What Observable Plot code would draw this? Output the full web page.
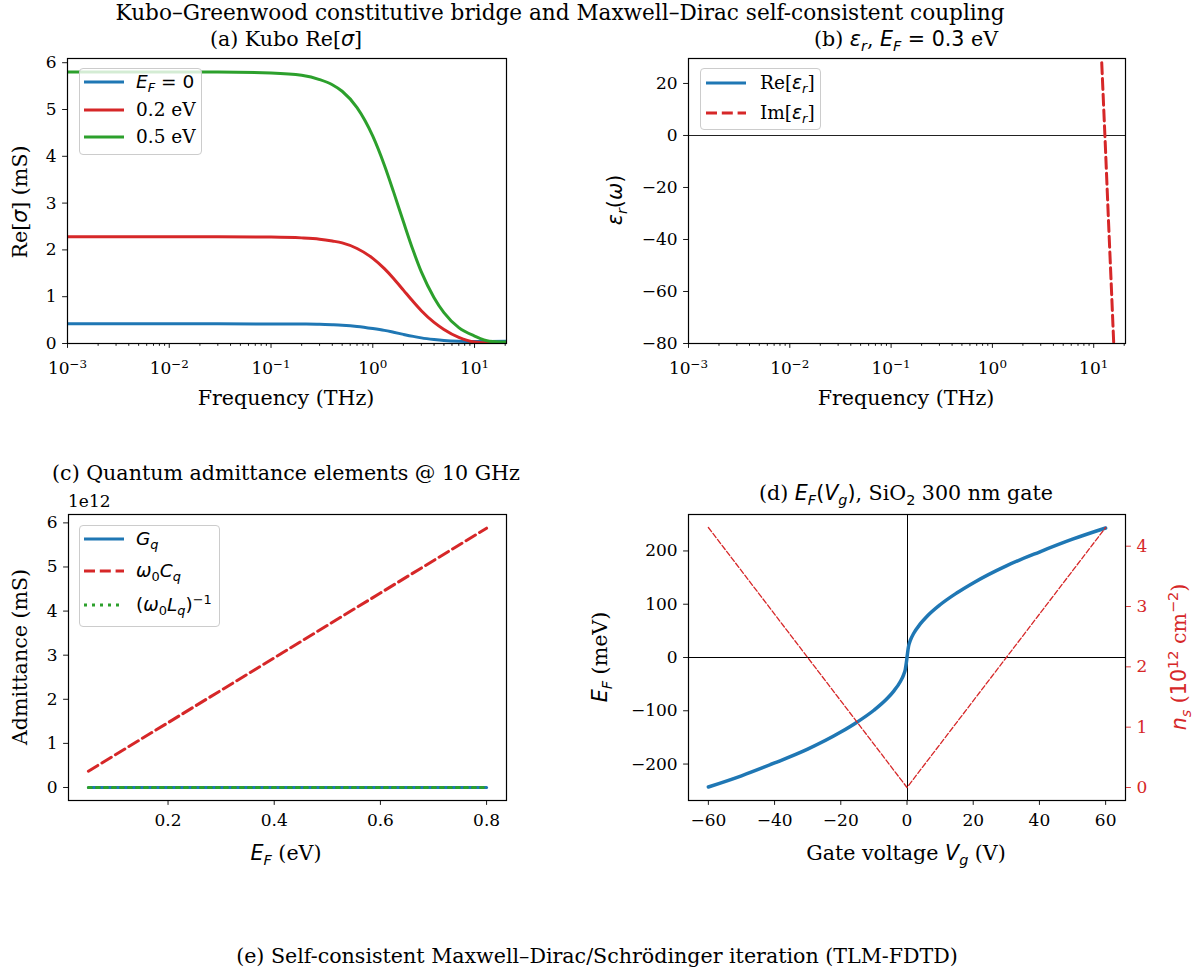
<!DOCTYPE html>
<html><head><meta charset="utf-8">
<script src="https://cdn.jsdelivr.net/npm/d3@7"></script>
<script src="https://cdn.jsdelivr.net/npm/@observablehq/plot@0.6"></script>
<style>
body{margin:0;background:#fff;}
#fig{position:relative;width:1195px;height:973px;background:#fff;font-family:"DejaVu Serif",serif;color:#000;overflow:hidden}
.t{position:absolute;white-space:nowrap;font-size:20.6px;line-height:1;transform:translate(-50%,-50%)}
.tl{position:absolute;white-space:nowrap;font-size:17px;line-height:1;transform:translate(0,-50%)}
.lt{position:absolute;white-space:nowrap;font-size:18.5px;line-height:1;transform:translate(0,-50%)}
.yl{position:absolute;white-space:nowrap;font-size:20.6px;line-height:1;transform:translate(-50%,-50%) rotate(-90deg)}
.m{font-family:"DejaVu Sans",sans-serif;font-style:italic}
.mu{font-family:"DejaVu Sans",sans-serif}
sub,sup{font-size:70%;line-height:0}
.leg{position:absolute;border:1px solid #cccccc;border-radius:4px;background:rgba(255,255,255,0.8);box-sizing:border-box}
.plotsvg{position:absolute}
</style></head>
<body><div id="fig"></div>
<script>
// ---------- data ----------
const freqTHz   = [0.001, 0.01, 0.03, 0.1, 0.2, 0.3, 0.4, 0.5, 0.7, 1.0, 1.3, 1.6, 2.0, 2.5, 3.0, 4.0, 5.0, 7.0, 10, 14, 20.6];
const reSigEF0  = [0.42, 0.42, 0.42, 0.419, 0.415, 0.41, 0.40, 0.39, 0.365, 0.32, 0.28, 0.24, 0.195, 0.152, 0.12, 0.085, 0.065, 0.05, 0.045, 0.045, 0.048];
const reSigEF02 = [2.28, 2.28, 2.28, 2.274, 2.257, 2.23, 2.19, 2.15, 2.03, 1.82, 1.60, 1.39, 1.14, 0.89, 0.70, 0.45, 0.30, 0.13, 0.03, 0.01, 0.01];
const reSigEF05 = [5.80, 5.80, 5.80, 5.78, 5.73, 5.64, 5.53, 5.39, 5.04, 4.43, 3.81, 3.24, 2.60, 1.98, 1.53, 0.98, 0.66, 0.34, 0.16, 0.05, 0.03];

const freqIm = [12.0, 13.0, 14.0, 15.0, 16.0];
const imEps  = [28, -3, -33, -60, -86];

const efAdm   = [0.05, 0.2, 0.4, 0.6, 0.8];
const gQ      = [0, 0, 0, 0, 0];
const w0Cq    = [0.37, 1.47, 2.94, 4.41, 5.88];
const invW0Lq = [0, 0, 0, 0, 0];

const vGate  = [-60, -50, -40, -30, -20, -15, -10, -6, -4, -2, -1, -0.5, -0.2, 0, 0.2, 0.5, 1, 2, 4, 6, 10, 15, 20, 30, 40, 50, 60];
const eFmeV  = [-243, -222, -198, -172, -140, -121, -99, -77, -63, -45, -32, -22, -10, 0, 10, 22, 32, 45, 63, 77, 99, 121, 140, 172, 198, 222, 243];
const vGateN = [-60, 0, 60];
const nS     = [4.31, 0, 4.31];

const logTicks = [1e-3, 1e-2, 1e-1, 1, 10];
const minorLog = [2,3,4,5,6,7,8,9].flatMap(k => [1e-3,1e-2,1e-1,1,10].map(d => k*d)).filter(v => v < 20.6);

// ---------- helpers ----------
const fig = document.getElementById("fig");
const BLUE = "#1f77b4", RED = "#d62728", GREEN = "#2ca02c";
const LW = 3, DASH = "11,4.8", DOT = "3,5";
const baseStyle = {background: "transparent", fontFamily: "DejaVu Serif", fontSize: "17px", color: "black", overflow: "visible", maxWidth: "none"};
const intFmt = d3.format("d");
const YP = 6;

function place(svg, left, top) {
  svg.classList.add("plotsvg");
  svg.style.left = left + "px"; svg.style.top = top + "px";
  fig.appendChild(svg);
  return svg;
}
function txt(cls, x, y, html, extra) {
  const d = document.createElement("div");
  d.className = cls; d.style.left = x + "px"; d.style.top = y + "px";
  d.innerHTML = html; if (extra) Object.assign(d.style, extra);
  fig.appendChild(d); return d;
}
function sup10(svg) {
  d3.select(svg).selectAll('g[aria-label="x-axis tick label"] text').each(function() {
    const t = this.textContent; if (!t.includes("^")) return;
    const [b, e] = t.split("^");
    const s = d3.select(this); s.text(null);
    s.append("tspan").text(b);
    s.append("tspan").attr("dy", "-0.55em").attr("font-size", "0.7em").text(e);
  });
}
function legend(x, y, w, h, items) {
  const d = document.createElement("div");
  d.className = "leg";
  Object.assign(d.style, {left: x + "px", top: y + "px", width: w + "px", height: h + "px"});
  fig.appendChild(d);
  items.forEach(it => {
    const ns = "http://www.w3.org/2000/svg";
    const s = document.createElementNS(ns, "svg");
    s.setAttribute("width", 44); s.setAttribute("height", 10);
    s.style.position = "absolute"; s.style.left = (it.lx - x - 2) + "px"; s.style.top = (it.y - y - 6) + "px";
    const l = document.createElementNS(ns, "line");
    l.setAttribute("x1", 2); l.setAttribute("x2", 42); l.setAttribute("y1", 5); l.setAttribute("y2", 5);
    l.setAttribute("stroke", it.color); l.setAttribute("stroke-width", it.sw || LW);
    if (it.dash) l.setAttribute("stroke-dasharray", it.dash);
    s.appendChild(l); d.appendChild(s);
    const t = document.createElement("div");
    t.className = "lt"; t.style.left = (it.tx - x - 1) + "px"; t.style.top = (it.y - y - 1) + "px";
    t.innerHTML = it.html; d.appendChild(t);
  });
}
const frame = () => Plot.frame({stroke: "black", strokeWidth: 1.2});
const logAxes = () => [
  Plot.axisX({ticks: minorLog, tickSize: 2.8, tickFormat: () => "", strokeWidth: 0.9}),
  Plot.axisX({ticks: logTicks, tickSize: 4.9, tickPadding: 14, strokeWidth: 0.9,
    tickFormat: d => "10^" + String(Math.round(Math.log10(d))).replace("-", "\u2212"), label: null})
];

// ---------- (a) ----------
const dataA = freqTHz.map((f, i) => ({f, a: reSigEF0[i], b: reSigEF02[i], c: reSigEF05[i]}));
const pa = Plot.plot({
  width: 600, height: 420, marginLeft: 67, marginRight: 94, marginTop: 58, marginBottom: 77,
  style: baseStyle,
  x: {type: "log", domain: [1e-3, 20.6], label: null},
  y: {domain: [0, 6.09], label: null},
  marks: [
    ...logAxes(),
    Plot.axisY({ticks: [0,1,2,3,4,5,6], tickFormat: intFmt, tickSize: 4.9, tickPadding: YP, strokeWidth: 0.9, label: null}),
    Plot.line(dataA, {x: "f", y: "a", stroke: BLUE, strokeWidth: LW, curve: "monotone-x", clip: true}),
    Plot.line(dataA, {x: "f", y: "b", stroke: RED, strokeWidth: LW, curve: "monotone-x", clip: true}),
    Plot.line(dataA, {x: "f", y: "c", stroke: GREEN, strokeWidth: LW, curve: "monotone-x", clip: true}),
    frame()
  ]
});
place(pa, 0, 0); sup10(pa);

// ---------- (b) ----------
const dataB = freqIm.map((f, i) => ({f, v: imEps[i]}));
const pb = Plot.plot({
  width: 595, height: 420, marginLeft: 88, marginRight: 70, marginTop: 58, marginBottom: 77,
  style: baseStyle,
  x: {type: "log", domain: [1e-3, 20.6], label: null},
  y: {domain: [-80, 29.6], label: null},
  marks: [
    ...logAxes(),
    Plot.axisY({ticks: [-80,-60,-40,-20,0,20], tickSize: 4.9, tickPadding: YP, strokeWidth: 0.9, label: null}),
    Plot.ruleY([0], {stroke: "#222", strokeWidth: 1.1}),
    Plot.line(dataB, {x: "f", y: "v", stroke: RED, strokeWidth: LW, strokeDasharray: DASH, clip: true}),
    frame()
  ]
});
place(pb, 600, 0); sup10(pb);

// ---------- (c) ----------
const dataC = efAdm.map((e, i) => ({e, g: gQ[i], c: w0Cq[i], l: invW0Lq[i]}));
const pc = Plot.plot({
  width: 600, height: 440, marginLeft: 68, marginRight: 94, marginTop: 74, marginBottom: 80,
  style: baseStyle,
  x: {domain: [0.0125, 0.8375], label: null},
  y: {domain: [-0.295, 6.19], label: null},
  marks: [
    Plot.axisX({ticks: [0.2,0.4,0.6,0.8], tickSize: 4.9, tickPadding: 9, strokeWidth: 0.9, tickFormat: d3.format(".1f"), label: null}),
    Plot.axisY({ticks: [0,1,2,3,4,5,6], tickFormat: intFmt, tickSize: 4.9, tickPadding: YP, strokeWidth: 0.9, label: null}),
    Plot.line(dataC, {x: "e", y: "g", stroke: BLUE, strokeWidth: LW}),
    Plot.line(dataC, {x: "e", y: "c", stroke: RED, strokeWidth: LW, strokeDasharray: DASH}),
    Plot.line(dataC, {x: "e", y: "l", stroke: GREEN, strokeWidth: LW, strokeDasharray: DOT}),
    frame()
  ]
});
place(pc, 0, 440);

// ---------- (d) ----------
const dataD = vGate.map((v, i) => ({v, e: eFmeV[i]}));
const dataN = vGateN.map((v, i) => ({v, n: nS[i]}));
const pd = Plot.plot({
  width: 595, height: 440, marginLeft: 88, marginRight: 70, marginTop: 74, marginBottom: 80,
  style: baseStyle,
  x: {domain: [-66, 66], label: null},
  y: {domain: [-268.4, 268.4], label: null},
  marks: [
    Plot.axisX({ticks: [-60,-40,-20,0,20,40,60], tickSize: 4.9, tickPadding: 9, strokeWidth: 0.9, label: null}),
    Plot.axisY({ticks: [-200,-100,0,100,200], tickSize: 4.9, tickPadding: YP, strokeWidth: 0.9, label: null}),
    Plot.ruleY([0], {stroke: "#000", strokeWidth: 1, shapeRendering: "crispEdges"}),
    Plot.ruleX([0], {stroke: "#000", strokeWidth: 1, shapeRendering: "crispEdges"}),
    Plot.line(dataD, {x: "v", y: "e", stroke: BLUE, strokeWidth: 3.5, curve: "monotone-x"}),
    frame()
  ]
});
place(pd, 600, 440);
const pd2 = Plot.plot({
  width: 595, height: 440, marginLeft: 88, marginRight: 70, marginTop: 74, marginBottom: 80,
  style: {...baseStyle, color: RED},
  x: {domain: [-66, 66], label: null, axis: null},
  y: {domain: [-0.2155, 4.5255], label: null},
  marks: [
    Plot.axisY({ticks: [0,1,2,3,4], tickFormat: intFmt, anchor: "right", tickSize: 4.9, tickPadding: YP, strokeWidth: 0.9, label: null, color: RED}),
    Plot.line(dataN, {x: "v", y: "n", stroke: RED, strokeWidth: 1.3, strokeDasharray: "5.2,2.3"})
  ]
});
place(pd2, 600, 440);

// ---------- text ----------
txt("t", 560, 13, "Kubo–Greenwood constitutive bridge and Maxwell–Dirac self-consistent coupling", {fontSize: "21.6px"});
txt("t", 286, 39, '(a) Kubo Re[<span class="m">σ</span>]');
txt("t", 906, 39, '(b) <span class="m">ε<sub>r</sub></span>, <span class="m">E<sub>F</sub></span><span class="mu"> = 0.3</span> eV');
txt("t", 286, 398, "Frequency (THz)");
txt("t", 906, 398, "Frequency (THz)");
txt("yl", 20, 202, 'Re[<span class="m">σ</span>] (mS)');
txt("yl", 615, 200, '<span class="m">ε<sub>r</sub></span><span class="mu">(</span><span class="m">ω</span><span class="mu">)</span>');
txt("t", 286, 473, "(c) Quantum admittance elements @ 10 GHz");
txt("tl", 68, 501, "1e12");
txt("yl", 20, 657, "Admittance (mS)");
txt("t", 286, 853, '<span class="m">E<sub>F</sub></span> (eV)');
txt("t", 906, 493, '(d) <span class="m">E<sub>F</sub></span><span class="mu">(</span><span class="m">V<sub>g</sub></span><span class="mu">)</span>, SiO<sub class="mu">2</sub> 300 nm gate');
txt("yl", 600, 657, '<span class="m">E<sub>F</sub></span> (meV)');
txt("yl", 1179, 657, '<span class="m">n<sub>s</sub></span> (<span class="mu">10<sup>12</sup></span> cm<sup class="mu">−2</sup>)', {color: RED});
txt("t", 906, 853, 'Gate voltage <span class="m">V<sub>g</sub></span> (V)');
txt("t", 597, 956, "(e) Self-consistent Maxwell–Dirac/Schrödinger iteration (TLM-FDTD)");

// ---------- legends ----------
legend(79, 68, 123, 87, [
  {lx: 83, tx: 136, y: 82, color: BLUE, html: '<span class="m">E<sub>F</sub></span><span class="mu"> = 0</span>'},
  {lx: 83, tx: 136, y: 110, color: RED, html: "0.2 eV"},
  {lx: 83, tx: 136, y: 137, color: GREEN, html: "0.5 eV"}
]);
legend(700, 68, 121, 62, [
  {lx: 705, tx: 760, y: 83, color: BLUE, html: 'Re[<span class="m">ε<sub>r</sub></span>]'},
  {lx: 705, tx: 760, y: 113, color: RED, dash: DASH, html: 'Im[<span class="m">ε<sub>r</sub></span>]'}
]);
legend(79, 525, 141, 102, [
  {lx: 83, tx: 136, y: 539, color: BLUE, html: '<span class="m">G<sub>q</sub></span>'},
  {lx: 83, tx: 136, y: 571, color: RED, dash: DASH, html: '<span class="m">ω</span><sub class="mu">0</sub><span class="m">C<sub>q</sub></span>'},
  {lx: 83, tx: 136, y: 605, color: GREEN, dash: DOT, html: '<span class="mu">(</span><span class="m">ω</span><sub class="mu">0</sub><span class="m">L<sub>q</sub></span><span class="mu">)<sup>−1</sup></span>'}
]);
</script></body></html>
